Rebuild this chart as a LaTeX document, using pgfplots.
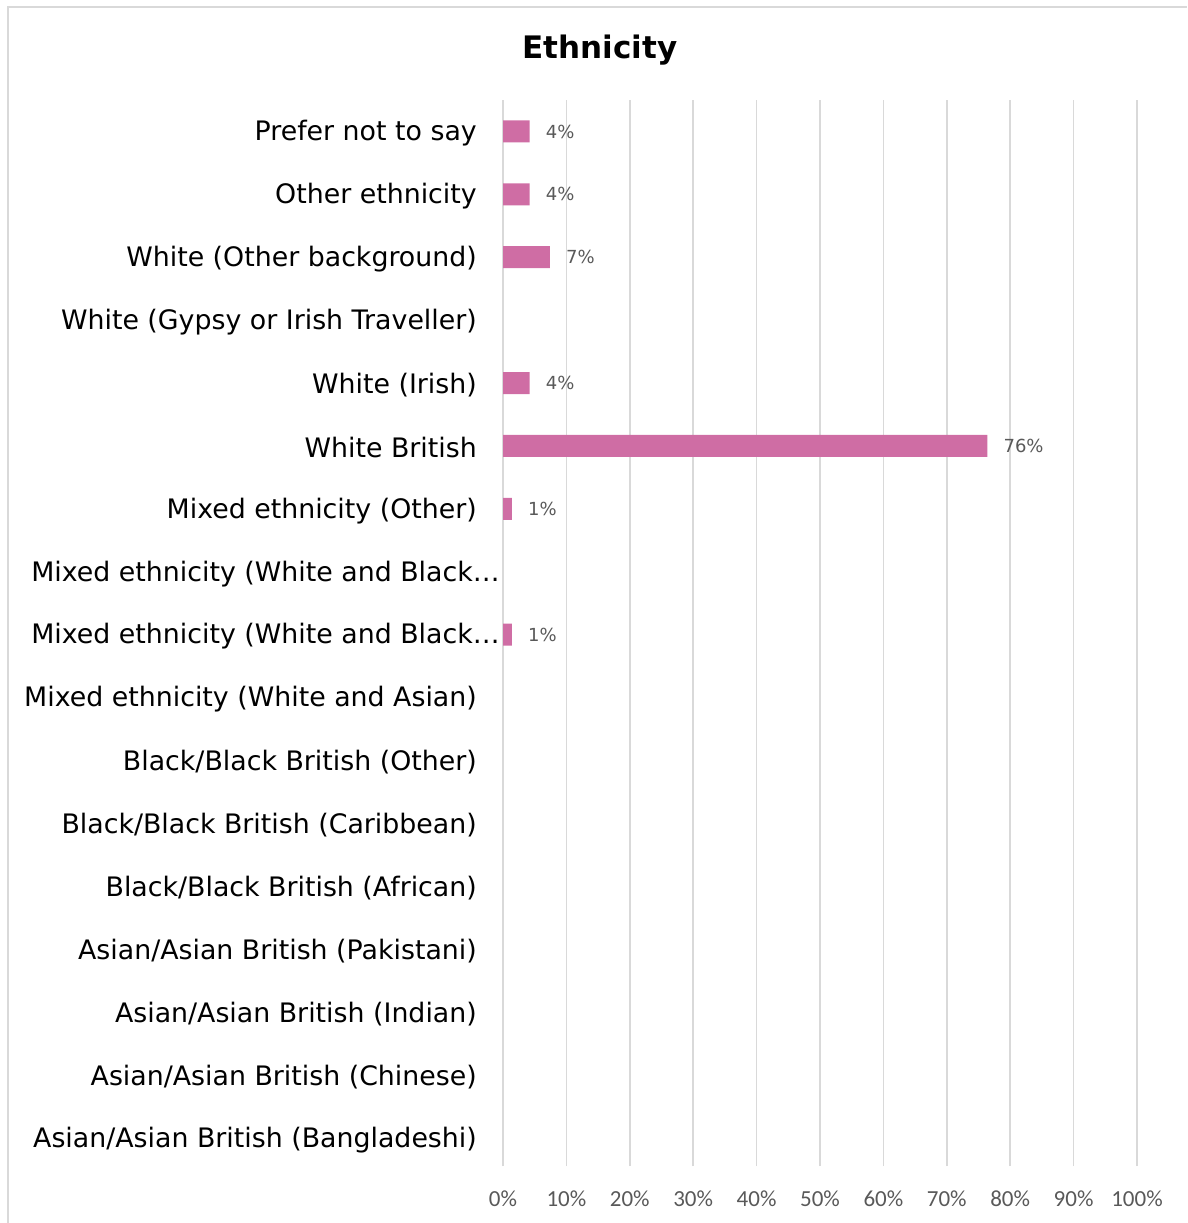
\documentclass[border=0pt]{standalone}
\usepackage{fontspec}
\setmainfont{DejaVu Sans}
\newfontfamily\carlito{Carlito}
\usepackage{pgfplots}
\pgfplotsset{compat=1.18}
\definecolor{barc}{HTML}{CF6DA4}
\definecolor{gridc}{HTML}{D9D9D9}
\definecolor{lblc}{HTML}{595959}
\begin{document}
\begin{tikzpicture}[x=1pt,y=1pt]
\path[use as bounding box] (0,0) rectangle (1187,-1223);
\draw[gridc, line width=1.5pt] (8,-1223) -- (8,-7) -- (1187,-7);
\node[font=\fontsize{31}{36}\selectfont\bfseries] at (600,-50) {Ethnicity};
\begin{axis}[at={(503pt,-1166pt)}, anchor=south west, scale only axis,
  width=634pt, height=1066pt,
  xmin=0, xmax=100, ymin=-0.45, ymax=16.5,
  xbar, bar width=22pt, bar shift=0pt,
  axis line style={draw=none}, major tick length=0pt,
  xmajorgrids, grid style={gridc, line width=1.5pt},
  xtick={0,10,...,100},
  xticklabels={0\%,10\%,20\%,30\%,40\%,50\%,60\%,70\%,80\%,90\%,100\%},
  xticklabel style={font=\carlito\fontsize{23}{27}\selectfont, text=lblc, inner sep=0pt, yshift=-25pt},
  ytick={0,...,16},
  yticklabels={Asian/Asian British (Bangladeshi),
    Asian/Asian British (Chinese),
    Asian/Asian British (Indian),
    Asian/Asian British (Pakistani),
    Black/Black British (African),
    Black/Black British (Caribbean),
    Black/Black British (Other),
    Mixed ethnicity (White and Asian),
    Mixed ethnicity (White and Black\rlap{…}\kern4pt,
    Mixed ethnicity (White and Black\rlap{…}\kern4pt,
    Mixed ethnicity (Other),
    White British,
    White (Irish),
    White (Gypsy or Irish Traveller),
    White (Other background),
    Other ethnicity,
    Prefer not to say},
  yticklabel style={font=\fontsize{26.8}{31}\selectfont, text=black, inner sep=0pt, xshift=-26pt, yshift=-2pt},
  point meta=explicit symbolic,
  nodes near coords,
  every node near coord/.append style={anchor=west, inner sep=0pt, xshift=16pt, font=\fontsize{18}{22}\selectfont, text=lblc},
]
\addplot[fill=barc, draw=none] coordinates {
  (4.2,16) [4\%]
  (4.2,15) [4\%]
  (7.4,14) [7\%]
  (4.2,12) [4\%]
  (76.4,11) [76\%]
  (1.4,10) [1\%]
  (1.4,8) [1\%]
};
\end{axis}
\end{tikzpicture}
\end{document}
